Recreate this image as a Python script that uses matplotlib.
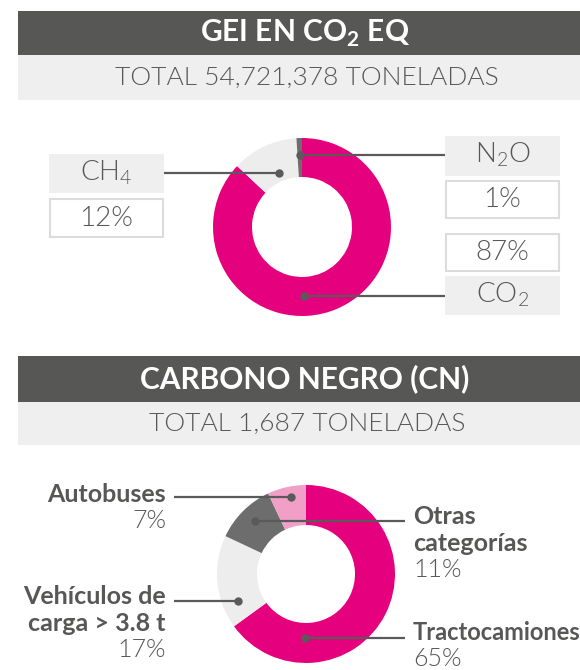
import matplotlib
matplotlib.use("Agg")
import matplotlib.pyplot as plt
from matplotlib.patches import Rectangle
import numpy as np

# ---------------- data ----------------
gei_title = "GEI EN CO$_\\mathregular{2}$ EQ"
gei_total = "TOTAL 54,721,378 TONELADAS"
gei_labels = ["CO$_\\mathregular{2}$", "CH$_\\mathregular{4}$", "N$_\\mathregular{2}$O"]
gei_values = [87, 12, 1]
gei_pct = ["87%", "12%", "1%"]

cn_title = "CARBONO NEGRO (CN)"
cn_total = "TOTAL 1,687 TONELADAS"
cn_labels = ["Tractocamiones", "Vehículos de\ncarga > 3.8 t", "Otras\ncategorías", "Autobuses"]
cn_values = [65, 17, 11, 7]
cn_pct = ["65%", "17%", "11%", "7%"]

# ---------------- style ----------------
W, H = 580, 670
PINK = "#E5007E"
LPINK = "#F29FC7"
DGRAY = "#6D6D6D"
LGRAY = "#EDEDED"
HEAD = "#575756"
BAND = "#EFEFEF"
TXT = "#575756"
LINE = "#5A5A5A"
LIGHT = 300
plt.rcParams["font.family"] = ["Lato", "DejaVu Sans"]

fig = plt.figure(figsize=(W / 100, H / 100), dpi=100)
ax = fig.add_axes([0, 0, 1, 1])


def Y(y):
    return H - y


def header(y0, y1, y2, title, total):
    ax.add_patch(Rectangle((18, Y(y1)), W - 18, y1 - y0, color=HEAD, lw=0))
    ax.add_patch(Rectangle((18, Y(y2)), W - 18, y2 - y1, color=BAND, lw=0))
    ax.text(305, Y((y0 + y1) / 2), title, color="white", fontsize=21.5,
            fontweight="bold", ha="center", va="center")
    ax.text(307, Y((y1 + y2) / 2), total, color=TXT, fontsize=19,
            fontweight=LIGHT, ha="center", va="center")


def dot_line(cx, cy, ang, r, x_end):
    a = np.deg2rad(ang)
    dx, dy = cx + r * np.cos(a), cy + r * np.sin(a)
    ax.plot([dx, x_end], [dy, dy], color=LINE, lw=1.6, solid_capstyle="butt", zorder=5)
    ax.plot([dx], [dy], "o", color=LINE, ms=5, zorder=6)
    return dy


# ---------------- section 1 ----------------
header(11, 55, 100, gei_title, gei_total)
c1 = (302, Y(227))
ax.pie(gei_values, colors=[PINK, LGRAY, DGRAY], startangle=90, counterclock=False,
       radius=89, center=c1, frame=True,
       wedgeprops=dict(width=39, linewidth=0))


def gei_box(x0, ly0, ly1, py0, py1, label, pct):
    ax.add_patch(Rectangle((x0, Y(ly1)), 115, ly1 - ly0, color=BAND, lw=0))
    ax.add_patch(Rectangle((x0 + 1, Y(py1) + 1), 113, py1 - py0 - 2, facecolor="white",
                           edgecolor="#DCDCDC", lw=1.5))
    ax.text(x0 + 57.5, Y((ly0 + ly1) / 2) + 1, label, color=TXT, fontsize=20,
            fontweight=LIGHT, ha="center", va="center")
    ax.text(x0 + 57.5, Y((py0 + py1) / 2), pct, color=TXT, fontsize=20,
            fontweight=LIGHT, ha="center", va="center")


gei_box(49, 154, 193, 198, 238, gei_labels[1], gei_pct[1])
gei_box(445, 136, 176, 180, 219, gei_labels[2], gei_pct[2])
# CO2: pct box above label box
ax.add_patch(Rectangle((445, Y(315)), 115, 39, color=BAND, lw=0))
ax.add_patch(Rectangle((446, Y(272) + 1), 113, 37, facecolor="white", edgecolor="#DCDCDC", lw=1.5))
ax.text(502.5, Y(295.5) + 1, gei_labels[0], color=TXT, fontsize=20, fontweight=LIGHT,
        ha="center", va="center")
ax.text(502.5, Y(252.5), gei_pct[0], color=TXT, fontsize=20, fontweight=LIGHT,
        ha="center", va="center")

dot_line(*c1, 113, 59, 164)     # CH4
dot_line(*c1, 91.6, 72, 445)    # N2O
dot_line(*c1, 272, 69, 445)     # CO2

# ---------------- section 2 ----------------
header(356, 402, 445, cn_title, cn_total)
c2 = (306, Y(574))
ax.pie(cn_values, colors=[PINK, LGRAY, DGRAY, LPINK], startangle=90, counterclock=False,
       radius=89, center=c2, frame=True,
       wedgeprops=dict(width=40, linewidth=0))

dot_line(*c2, 101, 78, 174)     # Autobuses
dot_line(*c2, 134, 73, 405)     # Otras
dot_line(*c2, 202, 73, 174)     # Vehiculos
dot_line(*c2, 269, 64, 405)     # Tracto

LS = 26.5


def cn_label(x, y_first, label, pct, ha, fs=18):
    lines = label.split("\n")
    for i, t in enumerate(lines):
        ax.text(x, Y(y_first + i * LS), t, color=TXT, fontsize=fs, fontweight="bold",
                ha=ha, va="center")
    ax.text(x, Y(y_first + len(lines) * LS), pct, color=TXT, fontsize=18,
            fontweight=LIGHT, ha=ha, va="center")


cn_label(166, 494, cn_labels[3], cn_pct[3], "right")
cn_label(413, 517, cn_labels[2], cn_pct[2], "left")
cn_label(166, 597, cn_labels[1], cn_pct[1], "right")
cn_label(413, 633, cn_labels[0], cn_pct[0], "left", fs=17)

ax.set_xlim(0, W)
ax.set_ylim(0, H)
ax.axis("off")
fig.savefig("out.png", dpi=100)
